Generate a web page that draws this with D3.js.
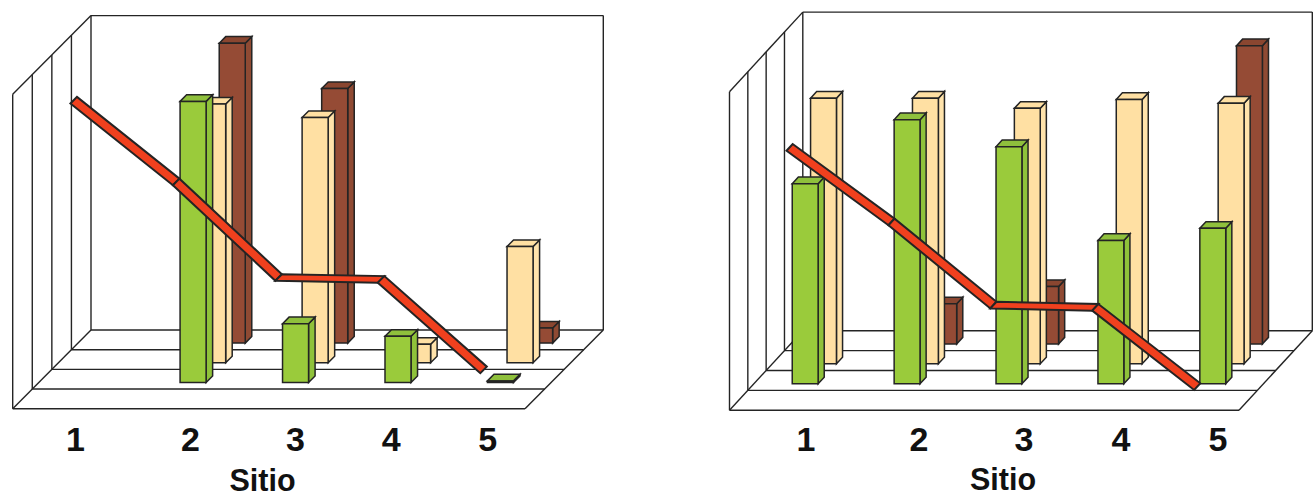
<!DOCTYPE html>
<html><head><meta charset="utf-8">
<script src="https://cdn.jsdelivr.net/npm/d3@7"></script>
<style>html,body{margin:0;padding:0;background:#fff}svg{display:block}</style>
</head><body><svg id="c" width="1315" height="496"></svg>
<script>
// Data (bar heights as % of the wall height)
const categories = ["1","2","3","4","5"];
const axisTitle = "Sitio";
const leftGreen  = [0, 89.4, 18.7, 14.7, 0.5];
const leftCream  = [0, 82.3, 78.0, 5.9, 37.0];
const leftBrown  = [0, 95.4, 81.0, 0, 4.8];
const leftLine   = [95.0, 69.0, 38.6, 38.0, 9.2];
const rightGreen = [62.8, 82.9, 74.4, 45.0, 48.8];
const rightCream = [83.4, 83.4, 80.2, 83.0, 81.8];
const rightBrown = [0, 12.6, 18.0, 0, 93.6];
const rightLine  = [79.4, 56.0, 29.9, 29.2, 4.3];

const colors = {
  green:{front:"#9acb3b",side:"#8fc23a",top:"#8fc03c"},
  cream:{front:"#ffe0a3",side:"#ffe3ab",top:"#ffe0a3"},
  brown:{front:"#954b35",side:"#8f4a33",top:"#8a4630"},
  line:"#f0401e", ink:"#242424"
};
const panels = [
  {x0:12.7,x1:525,yFloor:408.7,yTop:94.3,dx:78.3,dy:78.7,barNudge:0.6,
   green:leftGreen,cream:leftCream,brown:leftBrown,line:leftLine,
   tickNudge:[11.6,24,26.5,20,14],titleX:262.5,titleY:490.5},
  {x0:729.5,x1:1239,yFloor:410.3,yTop:91.7,dx:73.3,dy:79.6,barNudge:0.3,
   green:rightGreen,cream:rightCream,brown:rightBrown,line:rightLine,
   tickNudge:[25.5,36.6,39.7,34.8,29.9],titleX:1003,titleY:489.5}
];
const svg = d3.select("#c");
const poly = (g,pts,fill,sw,stroke)=>g.append("polygon")
  .attr("points",pts.map(p=>p.join(",")).join(" "))
  .attr("fill",fill).attr("stroke",stroke||colors.ink)
  .attr("stroke-width",sw).attr("stroke-linejoin","miter");

panels.forEach(p=>{
  const g = svg.append("g");
  const x = d3.scaleBand().domain(categories).range([p.x0,p.x1]);
  const h = d3.scaleLinear().domain([0,100]).range([0,p.yFloor-p.yTop]);
  const zx = d3.scaleLinear().domain([0,1]).range([0,p.dx]);
  const zy = d3.scaleLinear().domain([0,1]).range([0,p.dy]);
  const wall = {stroke:colors.ink,"stroke-width":1.4,fill:"none"};
  const L=(a,b,c,d)=>{const l=g.append("line").attr("x1",a).attr("y1",b).attr("x2",c).attr("y2",d);
    Object.entries(wall).forEach(([k,v])=>l.attr(k,v));};
  // back wall
  L(p.x0+p.dx,p.yTop-p.dy,p.x1+p.dx,p.yTop-p.dy);
  L(p.x1+p.dx,p.yTop-p.dy,p.x1+p.dx,p.yFloor-p.dy);
  // grid of sections on side wall and floor
  d3.range(0,5).forEach(i=>{
    const f=i/4, ox=zx(f), oy=zy(f);
    L(p.x0+ox,p.yTop-oy,p.x0+ox,p.yFloor-oy);
    L(p.x0+ox,p.yFloor-oy,p.x1+ox,p.yFloor-oy);
  });
  L(p.x0,p.yTop,p.x0+p.dx,p.yTop-p.dy);
  L(p.x0,p.yFloor,p.x0+p.dx,p.yFloor-p.dy);
  L(p.x1,p.yFloor,p.x1+p.dx,p.yFloor-p.dy);

  const barW = x.bandwidth()*0.254, depth = 1/12;
  const rows = [["brown",3],["cream",2],["green",1]];
  rows.forEach(([name,row])=>{
    const z = row/4 + 1/12;
    p[name].forEach((v,i)=>{
      if(!v) return;
      const cx = x(categories[i])+x.bandwidth()/2+zx(z)+p.barNudge;
      const l=cx-barW/2, r=cx+barW/2, b=p.yFloor-zy(z), t=b-h(v);
      const ox=zx(depth), oy=zy(depth), c=colors[name];
      poly(g,[[r,b],[r+ox,b-oy],[r+ox,t-oy],[r,t]],c.side,1.5);
      poly(g,[[l,t],[l+ox,t-oy],[r+ox,t-oy],[r,t]],c.top,1.5);
      poly(g,[[l,b],[r,b],[r,t],[l,t]],c.front,1.5);
    });
  });
  // ribbon line
  const z0=1/12, z1=2/12;
  const pt=(v,i,z)=>[x(categories[i])+x.bandwidth()/2+zx(z), p.yFloor-zy(z)-h(v)];
  d3.pairs(p.line.map((v,i)=>[v,i])).forEach(([a,b])=>{
    poly(g,[pt(a[0],a[1],z0),pt(b[0],b[1],z0),pt(b[0],b[1],z1),pt(a[0],a[1],z1)],colors.line,2);
  });
  // tick labels and title
  g.selectAll("text.t").data(categories).enter().append("text").attr("class","t")
    .attr("x",(d,i)=>x(d)+x.bandwidth()/2+p.tickNudge[i]).attr("y",451)
    .attr("text-anchor","middle").attr("font-family","Liberation Sans, Arial, sans-serif")
    .attr("font-weight",700).attr("font-size",34).attr("fill","#111").text(d=>d);
  g.append("text").attr("x",p.titleX).attr("y",p.titleY).attr("text-anchor","middle")
    .attr("font-family","Liberation Sans, Arial, sans-serif").attr("font-weight",700)
    .attr("font-size",30.5).attr("fill","#111").text(axisTitle);
});
</script></body></html>
